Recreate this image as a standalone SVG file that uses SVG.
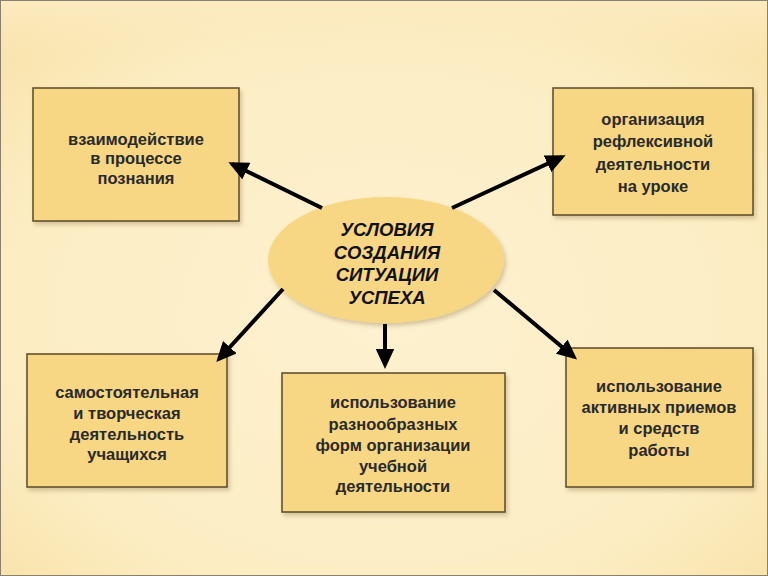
<svg xmlns="http://www.w3.org/2000/svg" width="768" height="576" viewBox="0 0 768 576">
<defs>
<radialGradient id="bg" cx="0.5" cy="0.55" r="0.7">
<stop offset="0" stop-color="#FDF1CF"/>
<stop offset="0.7" stop-color="#FCEDC3"/>
<stop offset="1" stop-color="#F8E2A8"/>
</radialGradient>
<linearGradient id="top" x1="0" y1="0" x2="0" y2="1">
<stop offset="0" stop-color="#FCEBC0"/>
<stop offset="1" stop-color="#FCEBC0" stop-opacity="0"/>
</linearGradient>
<marker id="ah" viewBox="0 0 10 10" refX="8" refY="5" markerWidth="5" markerHeight="4.6" orient="auto" markerUnits="strokeWidth" preserveAspectRatio="none">
<path d="M0,0 L10,5 L0,10 Z" fill="#000"/>
</marker>
<filter id="sh" x="-10%" y="-10%" width="130%" height="130%">
<feDropShadow dx="2" dy="3" stdDeviation="2" flood-color="#8a7040" flood-opacity="0.35"/>
</filter>
</defs>
<style>
.box{fill:#F7D783;stroke:#5A4A2A;stroke-width:1.5;filter:url(#sh)}
.t{font-family:"Liberation Sans",Arial,sans-serif;font-weight:bold;font-size:16.5px;fill:#2a2a2a;text-anchor:middle}
.e{font-family:"Liberation Sans",Arial,sans-serif;font-weight:bold;font-style:italic;font-size:18.5px;fill:#111;text-anchor:middle}
.c{stroke:#000;stroke-width:4;fill:none;marker-end:url(#ah)}
</style>
<rect x="0" y="0" width="768" height="576" fill="url(#bg)"/>
<rect x="0" y="0" width="768" height="60" fill="url(#top)"/>
<rect x="0.5" y="0.5" width="767" height="575" fill="none" stroke="#8a8070" stroke-width="1"/>

<g id="center">
<ellipse cx="386" cy="260" rx="118" ry="63" fill="#F7D783" filter="url(#sh)"/>
<text class="e" x="387" y="236">УСЛОВИЯ</text>
<text class="e" x="387" y="259">СОЗДАНИЯ</text>
<text class="e" x="387" y="281">СИТУАЦИИ</text>
<text class="e" x="387" y="304">УСПЕХА</text>
</g>

<g id="n1">
<rect class="box" x="33" y="88" width="206" height="133"/>
<text class="t" x="136" y="145">взаимодействие</text>
<text class="t" x="136" y="164">в процессе</text>
<text class="t" x="136" y="184">познания</text>
</g>

<g id="n2">
<rect class="box" x="553" y="88" width="200" height="127"/>
<text class="t" x="653" y="125">организация</text>
<text class="t" x="653" y="147">рефлексивной</text>
<text class="t" x="653" y="170">деятельности</text>
<text class="t" x="653" y="192">на уроке</text>
</g>

<g id="n3">
<rect class="box" x="27" y="354" width="200" height="133"/>
<text class="t" x="127" y="398">самостоятельная</text>
<text class="t" x="127" y="419">и творческая</text>
<text class="t" x="127" y="440">деятельность</text>
<text class="t" x="127" y="460">учащихся</text>
</g>

<g id="n4">
<rect class="box" x="282" y="373" width="223" height="139"/>
<text class="t" x="393" y="408">использование</text>
<text class="t" x="393" y="430">разнообразных</text>
<text class="t" x="393" y="451">форм организации</text>
<text class="t" x="393" y="472">учебной</text>
<text class="t" x="393" y="492">деятельности</text>
</g>

<g id="n5">
<rect class="box" x="566" y="348" width="187" height="139"/>
<text class="t" x="659" y="392">использование</text>
<text class="t" x="659" y="413">активных приемов</text>
<text class="t" x="659" y="434">и средств</text>
<text class="t" x="659" y="456">работы</text>
</g>

<g id="connectors">
<line class="c" x1="322" y1="208" x2="232" y2="164"/>
<line class="c" x1="452" y1="208" x2="562" y2="157"/>
<line class="c" x1="283" y1="289" x2="219" y2="359"/>
<line class="c" x1="385" y1="324" x2="385" y2="365"/>
<line class="c" x1="494" y1="290" x2="574" y2="357"/>
</g>
</svg>
